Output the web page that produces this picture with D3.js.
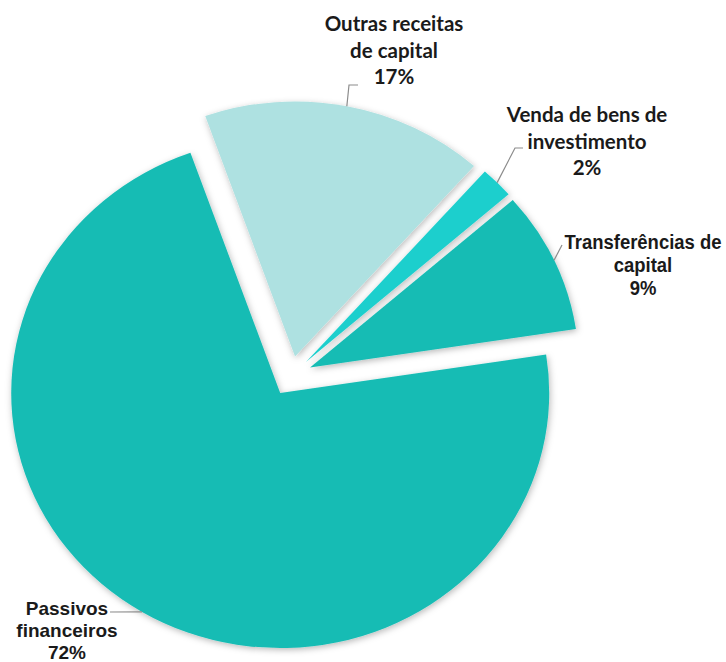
<!DOCTYPE html>
<html>
<head>
<meta charset="utf-8">
<script src="https://cdn.jsdelivr.net/npm/d3@7/dist/d3.min.js"></script>
<style>
  body { margin: 0; background: #fff; }
  svg { display: block; }
</style>
</head>
<body>
<svg id="chart" width="726" height="662"></svg>
<script>
// data
const categories = ["Passivos financeiros", "Outras receitas de capital", "Venda de bens de investimento", "Transferências de capital"];
const values = [72, 17, 2, 9];
const labelLines = [["Passivos", "financeiros", "72%"], ["Outras receitas", "de capital", "17%"], ["Venda de bens de", "investimento", "2%"], ["Transferências de", "capital", "9%"]];
const colors = ["#17bcb4", "#aee1e1", "#1ecfcd", "#17bcb4"];

const width = 726, height = 662;
const cx = 291, cy = 376;
const radius = 269;
const squash = 0.948;   // the picture is a bit flattened
const explode = 21;

const svg = d3.select("#chart");

const defs = svg.append("defs");
const f = defs.append("filter").attr("id", "shadow")
  .attr("x", "-10%").attr("y", "-10%").attr("width", "120%").attr("height", "120%");
f.append("feDropShadow")
  .attr("dx", 1).attr("dy", 2).attr("stdDeviation", 3.5)
  .attr("flood-color", "#000").attr("flood-opacity", 0.28);

const pie = d3.pie().sort(null)
  .startAngle(81.3 * Math.PI / 180)
  .endAngle(81.3 * Math.PI / 180 + 2 * Math.PI);
const arcs = pie(values);
const arc = d3.arc().innerRadius(0).outerRadius(radius);

const g = svg.append("g")
  .attr("transform", `translate(${cx},${cy}) scale(1,${squash})`);

function offset(d) {
  const a = (d.startAngle + d.endAngle) / 2;
  return [explode * Math.sin(a), -explode * Math.cos(a)];
}

g.selectAll("path.slice")
  .data(arcs)
  .enter()
  .append("path")
  .attr("class", "slice")
  .attr("d", arc)
  .attr("fill", (d, i) => colors[i])
  .attr("filter", "url(#shadow)")
  .attr("transform", (d) => {
    const o = offset(d);
    return `translate(${o[0]},${o[1]})`;
  });

// point on the outer edge of each slice, in page coordinates
function edgePoint(d) {
  const a = (d.startAngle + d.endAngle) / 2;
  const o = offset(d);
  return [cx + o[0] + radius * Math.sin(a), cy + (o[1] - radius * Math.cos(a)) * squash];
}

// label layout
const arial = "'Liberation Sans', Arial, sans-serif";
const calib = "Lato, 'Open Sans', sans-serif";
const labels = [
  { x: 67, y: 608, dy: 22, font: arial, size: 19, sx: 1, elbow: null, end: [110, 612] },
  { x: 394, y: 24, dy: 26.5, font: calib, size: 20.5, sx: 1, elbow: [349, 85], end: [358, 85] },
  { x: 587, y: 115, dy: 26.5, font: calib, size: 20.5, sx: 1, elbow: [515, 148], end: [523, 148] },
  { x: 643, y: 242, dy: 23, font: arial, size: 21, sx: 0.88, elbow: null, end: [562, 245] }
];

const leaders = svg.append("g");
arcs.forEach((d, i) => {
  const p = edgePoint(d);
  const L = labels[i];
  const pts = [p];
  if (L.elbow) pts.push(L.elbow);
  pts.push(L.end);
  leaders.append("path")
    .attr("d", d3.line()(pts))
    .attr("fill", "none")
    .attr("stroke", "#8c8c8c")
    .attr("stroke-width", 1.2);
});

const text = svg.append("g");
labels.forEach((L, i) => {
  const t = text.append("text")
    .attr("transform", `translate(${L.x},0) scale(${L.sx},1)`)
    .attr("text-anchor", "middle")
    .attr("font-family", L.font)
    .attr("font-weight", "bold")
    .attr("font-size", L.size)
    .attr("fill", "#1a1a1a");
  labelLines[i].forEach((line, k) => {
    t.append("tspan")
      .attr("x", 0)
      .attr("y", L.y + k * L.dy)
      .attr("dy", "0.35em")
      .text(line);
  });
});
</script>
</body>
</html>
